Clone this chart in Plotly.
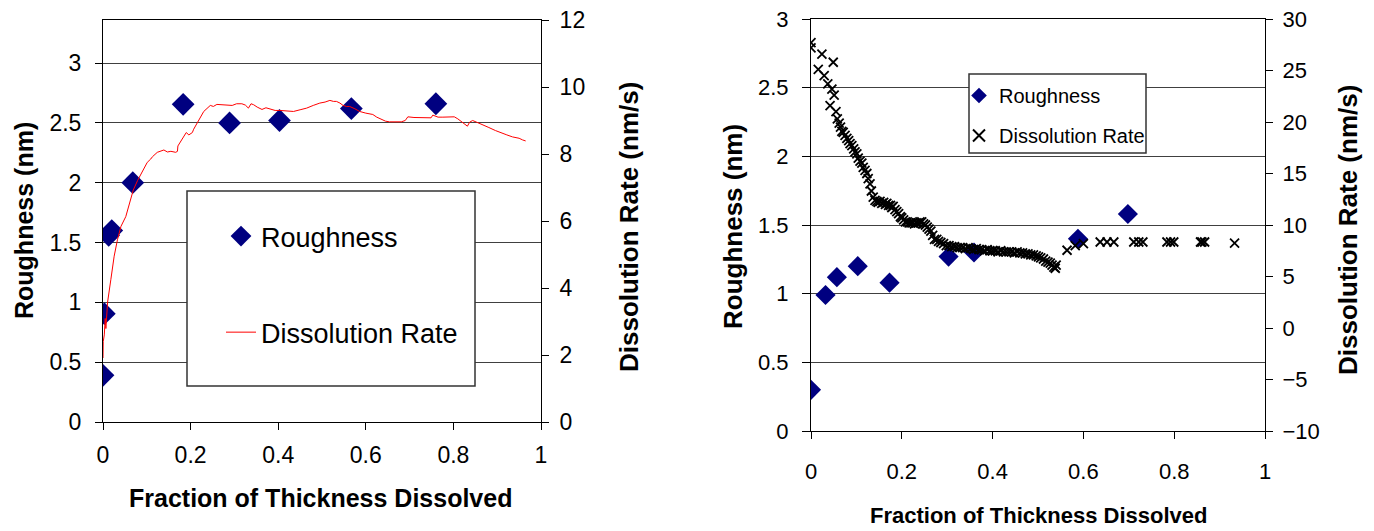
import plotly.graph_objects as go

W, H = 1374, 531
FONT = "Liberation Sans, Arial, sans-serif"

# ---------------- Left chart data ----------------
left_rough_x = [0.000, 0.003, 0.013, 0.020, 0.068, 0.183, 0.289, 0.403, 0.567, 0.760]
left_rough_y = [0.39, 0.905, 1.56, 1.60, 2.00, 2.655, 2.50, 2.52, 2.62, 2.66]

left_rate_x = [0.000, 0.0005, 0.003, 0.005, 0.0066, 0.0105, 0.018, 0.0255, 0.033, 0.041,
               0.052, 0.060, 0.069, 0.079, 0.090, 0.101, 0.109, 0.113, 0.124, 0.132,
               0.139, 0.147, 0.155, 0.166, 0.170, 0.171, 0.178, 0.185, 0.190, 0.196,
               0.204, 0.207, 0.215, 0.222, 0.230, 0.245, 0.252, 0.260, 0.272, 0.283,
               0.295, 0.305, 0.317, 0.325, 0.332, 0.338, 0.344, 0.352, 0.363, 0.372,
               0.382, 0.393, 0.404, 0.420, 0.435, 0.450, 0.465, 0.480, 0.495, 0.507,
               0.518, 0.526, 0.533, 0.541, 0.548, 0.556, 0.563, 0.575, 0.586, 0.600,
               0.616, 0.625, 0.635, 0.645, 0.654, 0.668, 0.681, 0.690, 0.696, 0.710,
               0.723, 0.736, 0.749, 0.753, 0.765, 0.776, 0.790, 0.802, 0.810, 0.817,
               0.825, 0.832, 0.837, 0.844, 0.853, 0.863, 0.872, 0.881, 0.896, 0.912,
               0.922, 0.935, 0.950, 0.958, 0.965]
left_rate_y = [1.91, 2.40, 2.60, 3.09, 2.79, 3.58, 4.26, 4.95, 5.44, 5.84,
               6.13, 6.53, 6.92, 7.21, 7.46, 7.75, 7.85, 7.92, 8.05, 8.10,
               8.12, 8.06, 8.08, 8.05, 8.08, 8.24, 8.39, 8.54, 8.64, 8.57,
               8.64, 8.74, 8.93, 9.08, 9.27, 9.45, 9.42, 9.48, 9.47, 9.47,
               9.45, 9.50, 9.50, 9.46, 9.37, 9.50, 9.47, 9.40, 9.33, 9.38,
               9.35, 9.30, 9.30, 9.28, 9.27, 9.32, 9.37, 9.45, 9.52, 9.55,
               9.60, 9.57, 9.57, 9.52, 9.45, 9.42, 9.42, 9.35, 9.27, 9.22,
               9.18, 9.10, 9.03, 8.98, 8.96, 8.96, 8.96, 9.00, 9.11, 9.09,
               9.08, 9.07, 9.08, 9.16, 9.10, 9.10, 9.10, 9.11, 9.05, 8.98,
               8.90, 8.83, 8.95, 9.00, 8.95, 8.90, 8.85, 8.79, 8.70, 8.61,
               8.57, 8.51, 8.47, 8.42, 8.39]

# ---------------- Right chart data ----------------
right_rough_x = [0.000, 0.032, 0.057, 0.103, 0.173, 0.303, 0.359, 0.588, 0.698]
right_rough_y = [0.30, 0.99, 1.12, 1.20, 1.08, 1.27, 1.30, 1.40, 1.58]

right_rate_x = [0.000, 0.000, 0.016, 0.024, 0.029, 0.037, 0.049, 0.042, 0.051, 0.046,
                0.055, 0.058, 0.062, 0.065, 0.068, 0.071, 0.075, 0.079, 0.083, 0.086,
                0.090, 0.094, 0.097, 0.101, 0.104, 0.108, 0.112, 0.115, 0.119, 0.123,
                0.126, 0.130, 0.133, 0.137, 0.141, 0.145, 0.148, 0.152, 0.156, 0.160,
                0.164, 0.167, 0.171, 0.175, 0.178, 0.181, 0.185, 0.189, 0.193, 0.197,
                0.200, 0.204, 0.208, 0.212, 0.216, 0.220, 0.224, 0.228, 0.232, 0.236,
                0.240, 0.244, 0.248, 0.252, 0.256, 0.260, 0.264, 0.268, 0.272, 0.277,
                0.281, 0.286, 0.292, 0.298, 0.304, 0.310, 0.316, 0.322, 0.328, 0.334,
                0.340, 0.346, 0.352, 0.358, 0.364, 0.370, 0.376, 0.382, 0.388, 0.394,
                0.400, 0.406, 0.412, 0.418, 0.424, 0.430, 0.436, 0.442, 0.448, 0.454,
                0.460, 0.466, 0.472, 0.478, 0.484, 0.490, 0.496, 0.501, 0.506, 0.512,
                0.517, 0.522, 0.527, 0.531, 0.535, 0.538, 0.540,
                0.564, 0.582, 0.600, 0.637, 0.652, 0.667, 0.711, 0.722, 0.731,
                0.784, 0.792, 0.799, 0.858, 0.861, 0.867, 0.933]
right_rate_y = [27.7, 27.2, 25.1, 26.6, 24.5, 23.7, 25.8, 21.6, 22.6, 23.2,
                21.0, 20.3, 19.9, 19.5, 19.1, 19.0, 18.7, 18.4, 18.2, 17.9,
                17.7, 17.4, 17.1, 16.9, 16.5, 16.2, 16.0, 15.6, 15.3, 15.0,
                14.5, 14.0, 13.3, 12.7, 12.4, 12.3, 12.2, 12.3, 12.1, 12.2,
                12.0, 12.1, 11.9, 11.9, 11.7, 11.8, 11.5, 11.3, 11.1, 10.8,
                10.7, 10.5, 10.3, 10.3, 10.2, 10.2, 10.2, 10.1, 10.2, 10.2,
                10.3, 10.3, 10.1, 10.0, 9.8, 9.6, 9.4, 9.0, 8.6, 8.6,
                8.4, 8.3, 8.2, 8.0, 8.0, 7.9, 7.9, 7.8, 7.8, 7.8,
                7.7, 7.8, 7.7, 7.6, 7.7, 7.6, 7.6, 7.5, 7.6, 7.5,
                7.5, 7.5, 7.4, 7.5, 7.4, 7.4, 7.4, 7.4, 7.3, 7.4,
                7.3, 7.3, 7.2, 7.2, 7.1, 7.1, 7.0, 6.9, 6.8, 6.7,
                6.5, 6.4, 6.3, 6.1, 5.9, 5.8, 6.1,
                7.55, 8.0, 8.2, 8.35, 8.35, 8.35, 8.35, 8.35, 8.35,
                8.35, 8.35, 8.35, 8.35, 8.35, 8.35, 8.25]

x_ticks = [0, 0.2, 0.4, 0.6, 0.8, 1]

def px_x(p):
    return p / W

def px_y(p):
    return 1 - p / H

NAVY = "#000080"
GRID = "#404040"

fig = go.Figure()

fig.add_trace(go.Scatter(
    x=left_rough_x, y=left_rough_y, xaxis="x", yaxis="y", mode="markers",
    name="Roughness", legend="legend", legendgroup="a",
    marker=dict(symbol="diamond", size=17.5, color=NAVY)))
fig.add_trace(go.Scatter(
    x=left_rate_x, y=left_rate_y, xaxis="x", yaxis="y2", mode="lines",
    name="Dissolution Rate", legend="legend", legendgroup="b",
    line=dict(color="#ff0000", width=1)))

fig.add_trace(go.Scatter(
    x=right_rough_x, y=right_rough_y, xaxis="x2", yaxis="y4", mode="markers",
    name="Roughness", legend="legend2", legendgroup="c",
    marker=dict(symbol="diamond", size=15.5, color=NAVY)))
fig.add_trace(go.Scatter(
    x=right_rate_x, y=right_rate_y, xaxis="x2", yaxis="y5", mode="markers",
    name="Dissolution Rate", legend="legend2", legendgroup="d",
    marker=dict(symbol="x-thin", size=9, color="black",
                line=dict(color="black", width=1.8))))

tickfont_l = dict(family=FONT, size=23, color="black")
tickfont_r = dict(family=FONT, size=22, color="black")

common_x = dict(range=[0, 1], tickvals=x_ticks, ticks="outside", ticklen=7,
                tickcolor="black", showline=True, linecolor="black", linewidth=1,
                mirror=True, showgrid=False, zeroline=False, automargin=False)

fig.update_layout(
    width=W, height=H,
    margin=dict(l=0, r=0, t=0, b=0),
    paper_bgcolor="white", plot_bgcolor="white",
    showlegend=True,
    xaxis=dict(domain=[px_x(95), px_x(533)], anchor="y", tickfont=tickfont_l,
               ticklabelstandoff=5, **common_x),
    yaxis=dict(domain=[px_y(414), px_y(12)], anchor="x", range=[0, 3.36],
               tick0=0, dtick=0.5, ticks="outside", ticklen=7, tickcolor="black",
               showline=True, linecolor="black", showgrid=True, gridcolor=GRID,
               gridwidth=1, zeroline=False, tickfont=tickfont_l,
               ticklabelstandoff=9, automargin=False),
    yaxis2=dict(overlaying="y", side="right", anchor="x", range=[0, 12],
                tick0=0, dtick=2, ticks="outside", ticklen=7, tickcolor="black",
                showline=True, linecolor="black", showgrid=False, zeroline=False,
                tickfont=tickfont_l, ticklabelstandoff=6, automargin=False,
                ticklabeloverflow="allow"),
    yaxis3=dict(overlaying="y", side="right", anchor="x", range=[0, 12],
                tick0=0, dtick=2, ticks="inside", ticklen=7, tickcolor="black",
                showline=False, showgrid=False, zeroline=False,
                showticklabels=False, automargin=False),
    xaxis2=dict(domain=[px_x(803), px_x(1257)], anchor="y4", tickfont=tickfont_r,
                ticklabelstandoff=14, **common_x),
    yaxis4=dict(domain=[px_y(423), px_y(11)], anchor="x2", range=[0, 3],
                tick0=0, dtick=0.5, ticks="outside", ticklen=8, tickcolor="black",
                showline=True, linecolor="black", showgrid=True, gridcolor=GRID,
                gridwidth=1, zeroline=False, tickfont=tickfont_r,
                ticklabelstandoff=9, automargin=False, ticklabeloverflow="allow"),
    yaxis5=dict(overlaying="y4", side="right", anchor="x2", range=[-10, 30],
                tick0=-10, dtick=5, ticks="outside", ticklen=7, tickcolor="black",
                showline=True, linecolor="black", showgrid=False, zeroline=False,
                tickfont=tickfont_r, ticklabelstandoff=5, automargin=False,
                ticklabeloverflow="allow"),
    yaxis6=dict(overlaying="y4", side="right", anchor="x2", range=[-10, 30],
                tick0=-10, dtick=5, ticks="inside", ticklen=7, tickcolor="black",
                showline=False, showgrid=False, zeroline=False,
                showticklabels=False, automargin=False),
    legend=dict(x=px_x(213), y=px_y(204), xanchor="left", yanchor="top",
                bgcolor="rgba(0,0,0,0)", borderwidth=0,
                font=dict(family=FONT, size=27, color="black"),
                tracegroupgap=58, traceorder="grouped", itemsizing="trace"),
    legend2=dict(x=px_x(951), y=px_y(68), xanchor="left", yanchor="top",
                 bgcolor="rgba(0,0,0,0)", borderwidth=0,
                 font=dict(family=FONT, size=20, color="black"),
                 tracegroupgap=11, traceorder="grouped", itemsizing="constant"),
)

shapes = [
    dict(type="rect", xref="paper", yref="paper",
         x0=px_x(179), x1=px_x(467), y0=px_y(378), y1=px_y(183),
         line=dict(color="#333333", width=1.5), fillcolor="white", layer="above"),
    dict(type="rect", xref="paper", yref="paper",
         x0=px_x(961), x1=px_x(1138), y0=px_y(145), y1=px_y(66),
         line=dict(color="#333333", width=1.5), fillcolor="white", layer="above"),
]
fig.update_layout(shapes=shapes)

title_font_l = dict(family=FONT, size=25, color="black")
title_font_r = dict(family=FONT, size=22, color="black")

annotations = [
    dict(text="<b>Fraction of Thickness Dissolved</b>", x=px_x(312), y=px_y(490),
         font=title_font_l),
    dict(text="<b>Roughness (nm)</b>", x=px_x(16), y=px_y(213), textangle=-90,
         font=dict(family=FONT, size=25, color="black")),
    dict(text="<b>Dissolution Rate (nm/s)</b>", x=px_x(621), y=px_y(219),
         textangle=-90, font=dict(family=FONT, size=26, color="black")),
    dict(text="<b>Fraction of Thickness Dissolved</b>", x=px_x(1030), y=px_y(507),
         font=title_font_r),
    dict(text="<b>Roughness (nm)</b>", x=px_x(725), y=px_y(219), textangle=-90,
         font=dict(family=FONT, size=26, color="black")),
    dict(text="<b>Dissolution Rate (nm/s)</b>", x=px_x(1340), y=px_y(222),
         textangle=-90, font=dict(family=FONT, size=26, color="black")),
]
for a in annotations:
    a.update(xref="paper", yref="paper", showarrow=False,
             xanchor="center", yanchor="middle")
fig.update_layout(annotations=annotations)

fig.write_html("out.html")
